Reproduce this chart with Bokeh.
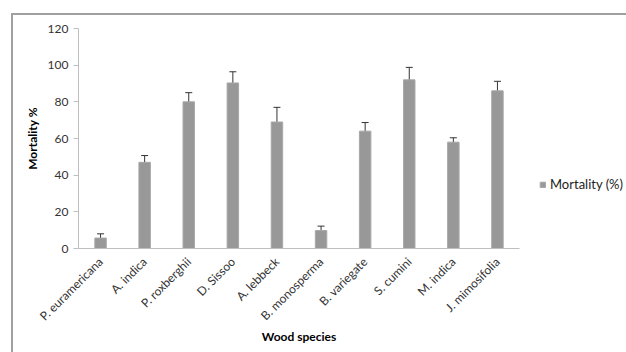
import math
from bokeh.plotting import figure
from bokeh.models import (ColumnDataSource, Whisker, TeeHead, Legend, LegendItem,
                          FixedTicker, InlineStyleSheet)
from bokeh.embed import file_html
from bokeh.resources import INLINE

species = ["P. euramericana", "A. indica", "P. roxberghii", "D. Sissoo", "A. lebbeck",
           "B. monosperma", "B. variegate", "S. cumini", "M. indica", "J. mimosifolia"]
mortality = [5.7, 47, 80, 90.3, 69, 9.8, 64, 92, 58, 86]
error = [2.3, 3.7, 5, 6.1, 8, 2.4, 4.7, 6.8, 2.4, 5.2]
y_ticks = [0, 20, 40, 60, 80, 100, 120]

src = ColumnDataSource(dict(
    x=species, top=mortality,
    upper=[m + e for m, e in zip(mortality, error)],
    lower=[m - e for m, e in zip(mortality, error)],
))

FONT = "Lato"
p = figure(x_range=species, y_range=(0, 120), frame_width=441, frame_height=220,
           min_border_left=78, min_border_top=28, min_border_right=107, min_border_bottom=104,
           output_backend="svg", toolbar_location=None)
p.outline_line_color = None
p.grid.visible = False

# chart-area border (left and top edges, as in the reference)
p.stylesheets = [InlineStyleSheet(css=(
    ":host::after { content: ''; position: absolute; left: 11px; top: 13px; "
    "right: 0; bottom: 0; border-left: 2px solid #a0a0a0; "
    "border-top: 2px solid #a0a0a0; pointer-events: none; }"))]

r = p.vbar(x="x", top="top", width=0.26, source=src, fill_color="#989898",
           line_color="#a8a8a8", line_width=1)
w = Whisker(base="x", upper="upper", lower="lower", source=src, line_color="#333333",
            line_width=1,
            upper_head=TeeHead(size=7, line_color="#333333", line_width=1),
            lower_head=TeeHead(size=7, line_color="#333333", line_width=1))
p.add_layout(w)

p.yaxis.ticker = FixedTicker(ticks=y_ticks)
p.yaxis.axis_line_color = "#bfbfbf"
p.yaxis.major_tick_line_color = "#bfbfbf"
p.yaxis.major_tick_out = 5
p.yaxis.major_tick_in = 0
p.yaxis.minor_tick_line_color = None
p.yaxis.axis_label = "Mortality %"
p.xaxis.axis_label = "Wood species"
p.xaxis.axis_label_standoff = -3
p.xaxis.axis_line_color = "#bfbfbf"
p.xaxis.major_tick_line_color = None
p.xaxis.major_label_orientation = math.pi / 4
for ax in (p.xaxis, p.yaxis):
    ax.major_label_text_font = FONT
    ax.major_label_text_font_size = "12px"
    ax.major_label_text_color = "#333333"
    ax.axis_label_text_font = FONT
    ax.axis_label_text_font_size = "12px"
    ax.axis_label_text_font_style = "bold"
    ax.axis_label_text_color = "#000000"

legend = Legend(items=[LegendItem(label="Mortality (%)", renderers=[r])],
                location=(20, 56), border_line_color=None, background_fill_alpha=0,
                label_text_font=FONT, label_text_font_size="13px",
                label_text_color="#222222",
                glyph_width=7, glyph_height=7, label_standoff=4, padding=2, margin=0)
p.add_layout(legend, "right")

open("out.html", "w").write(file_html(p, INLINE))
